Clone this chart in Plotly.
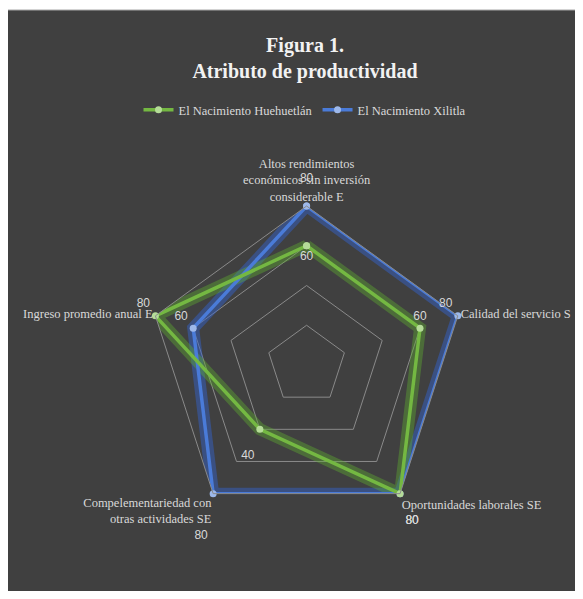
import plotly.graph_objects as go

categories = [
    "Altos rendimientos<br>económicos sin inversión<br>considerable E",
    "Calidad del servicio S",
    "Oportunidades laborales SE",
    "Compelementariedad con<br>otras actividades SE",
    "Ingreso promedio anual E",
]
huehuetlan = [60, 60, 80, 40, 80]
xilitla = [80, 80, 80, 80, 60]
series_names = ["El Nacimiento Huehuetlán", "El Nacimiento Xilitla"]

green = "#74b842"
green_glow = "rgba(96,176,48,0.40)"
green_marker = "#b5dc98"
blue = "#4a7bd8"
blue_glow = "rgba(50,100,210,0.45)"
blue_marker = "#9db8ea"

# page has an 8px body margin; figure sized to fit the window
W, H = 575, 583
cx, cy, R = 298.6, 357, 159

def closed(v):
    return list(v) + [v[0]]

theta = closed(categories)

fig = go.Figure()

pos_h = ["bottom center", "top center", "bottom right", "bottom left", "top left", "top center"]
pos_x = ["top center", "top left", "bottom right", "bottom left", "top left", "top center"]
pre_h = ["", "", "<br>", "<br>", "", ""]
pre_x = ["", "", "<br>", "<br><br>", "", ""]
post_x = ["<br>", "", "", "", "", ""]

for vals, glow in [(xilitla, blue_glow), (huehuetlan, green_glow)]:
    fig.add_trace(go.Scatterpolar(
        r=closed(vals), theta=theta, mode="lines",
        line=dict(color=glow, width=12), showlegend=False, hoverinfo="skip",
    ))

traces = []
for vals, col, mk, name, pos, pre, post, rank in [
    (huehuetlan, green, green_marker, series_names[0], pos_h, pre_h, [""] * 6, 1),
    (xilitla, blue, blue_marker, series_names[1], pos_x, pre_x, post_x, 2),
]:
    labels = [p + str(v) + q for p, v, q in zip(pre, vals, post)] + [""]
    traces.append(go.Scatterpolar(
        r=closed(vals), theta=theta, mode="lines+markers+text",
        name=name, legendrank=rank,
        line=dict(color=col, width=3.5),
        marker=dict(size=7, color=mk, line=dict(width=0)),
        text=labels, textposition=pos,
        textfont=dict(family="Liberation Sans", size=12, color="#d9d9d9"),
    ))
fig.add_trace(traces[1])
fig.add_trace(traces[0])

fig.update_layout(
    width=W, height=H,
    margin=dict(l=0, r=0, t=0, b=0),
    paper_bgcolor="#404040",
    shapes=[dict(type="rect", xref="paper", yref="paper",
                 x0=-0.01, x1=1.01, y0=1 - 2 / H, y1=1.01,
                 fillcolor="white", line=dict(width=0), layer="below"),
            dict(type="line", xref="paper", yref="paper",
                 x0=0, x1=1, y0=1 - 2 / H, y1=1 - 2 / H,
                 line=dict(color="#a6a6a6", width=1), layer="below")],
    title=dict(
        text="<b>Figura 1.<br>Atributo de productividad</b>",
        x=297 / W, xanchor="center", y=1 - 44 / H, yanchor="middle",
        font=dict(family="Liberation Serif", size=20, color="#f2f2f2"),
    ),
    legend=dict(
        orientation="h", x=297 / W, xanchor="center", y=1 - 102 / H, yanchor="middle",
        font=dict(family="Liberation Serif", size=12.5, color="#d9d9d9"),
        bgcolor="rgba(0,0,0,0)",
    ),
    polar=dict(
        domain=dict(x=[(cx - R) / W, (cx + R) / W], y=[(H - cy - R) / H, (H - cy + R) / H]),
        bgcolor="rgba(0,0,0,0)",
        gridshape="linear",
        radialaxis=dict(range=[0, 80], tickvals=[20, 40, 60, 80], showticklabels=False,
                        gridcolor="#8a8a8a", gridwidth=1, showline=False, ticks=""),
        angularaxis=dict(direction="clockwise", rotation=90, showgrid=False,
                         showline=True, linecolor="#8a8a8a", linewidth=1, ticks="",
                         tickfont=dict(family="Liberation Serif", size=12.5, color="#d9d9d9")),
    ),
)

fig.write_html("out.html")
